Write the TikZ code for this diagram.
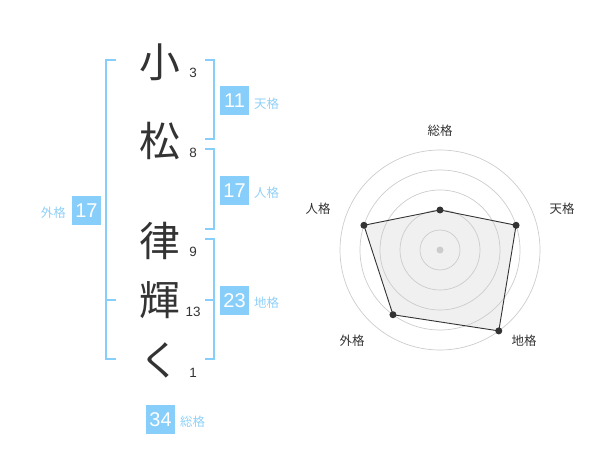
\documentclass[tikz,border=0pt]{standalone}
\usepackage{fontspec}
\setmainfont{Liberation Sans}
\newfontfamily\cjk{Noto Sans CJK JP}
\definecolor{sky}{HTML}{87CEFA}
\definecolor{skytxt}{HTML}{8FD0F8}
\definecolor{ink}{HTML}{333333}
\definecolor{ring}{HTML}{CCCCCC}
\definecolor{area}{HTML}{F0F0F0}
\tikzset{
  bigchar/.style={inner sep=0pt, text=ink, font=\cjk\fontsize{41}{41}\selectfont},
  strokes/.style={inner sep=0pt, text=ink, font=\fontsize{13.5}{13.5}\selectfont},
  brk/.style={draw=sky, line width=2bp},
  numbox/.style={fill=sky, text=white, minimum width=29bp, minimum height=29bp, inner sep=0pt, font=\fontsize{20}{20}\selectfont},
  kaku/.style={inner sep=0pt, text=skytxt, font=\cjk\fontsize{12.5}{12.5}\selectfont},
  axlabel/.style={inner sep=0pt, text=ink, font=\cjk\fontsize{12.5}{12.5}\selectfont},
  dot/.style={circle, fill=ink, inner sep=0pt, minimum size=7bp},
}
\begin{document}
\begin{tikzpicture}[x=1bp,y=-1bp]
\useasboundingbox (0,0) rectangle (600,470);
% characters
\node[bigchar] (c1) at (160,62) {小};
\node[bigchar] (c2) at (160,141) {松};
\node[bigchar] (c3) at (160,241) {律};
\node[bigchar] (c4) at (160,300) {輝};
\node[bigchar] (c5) at (160,360) {く};
\node[strokes] (s1) at (193,73) {3};
\node[strokes] (s2) at (193,153) {8};
\node[strokes] (s3) at (193,252) {9};
\node[strokes] (s4) at (193,312) {13};
\node[strokes] (s5) at (193,373) {1};
% brackets
\draw[brk] (116,60) -- (106,60) -- (106,359) -- (116,359);
\draw[brk] (106,300) -- (116,300);
\draw[brk] (205,60) -- (214,60) -- (214,139) -- (205,139);
\draw[brk] (205,149) -- (214,149) -- (214,229) -- (205,229);
\draw[brk] (205,239) -- (214,239) -- (214,359) -- (205,359);
\draw[brk] (205,300) -- (214,300);
% boxes
\node[numbox] (b1) at (234.5,100.5) {11};
\node[kaku, anchor=west] (k1) at (254,104) {天格};
\node[numbox] (b2) at (234.5,190.5) {17};
\node[kaku, anchor=west] (k2) at (254,193) {人格};
\node[numbox] (b3) at (234.5,300.5) {23};
\node[kaku, anchor=west] (k3) at (254,303) {地格};
\node[numbox] (b4) at (86.5,210.5) {17};
\node[kaku, anchor=east] (k4) at (66,213) {外格};
\node[numbox] (b5) at (160.5,419.5) {34};
\node[kaku, anchor=west] (k5) at (180,422) {総格};
% radar
\coordinate (O) at (440,250);
\path (O) ++(0,-40) coordinate (pa)
      (O) ++(76.08,-24.72) coordinate (pb)
      (O) ++(58.78,80.90) coordinate (pc)
      (O) ++(-47.02,64.72) coordinate (pd)
      (O) ++(-76.08,-24.72) coordinate (pe);
\fill[area] (pa) -- (pb) -- (pc) -- (pd) -- (pe) -- cycle;
\foreach \r in {20,40,60,80,100} \draw[ring, line width=0.7bp] (O) circle[radius=\r];
\node[circle, fill=ring, inner sep=0pt, minimum size=7bp] (cd) at (O) {};
\draw[ink, line width=0.9bp] (pa) -- (pb) -- (pc) -- (pd) -- (pe) -- cycle;
\foreach \p in {pa,pb,pc,pd,pe} \node[dot] at (\p) {};
\node[axlabel] (l1) at (440,131) {総格};
\node[axlabel] (l2) at (562,209) {天格};
\node[axlabel] (l3) at (524,341) {地格};
\node[axlabel] (l4) at (352,341) {外格};
\node[axlabel] (l5) at (318,209) {人格};
\end{tikzpicture}
\end{document}
